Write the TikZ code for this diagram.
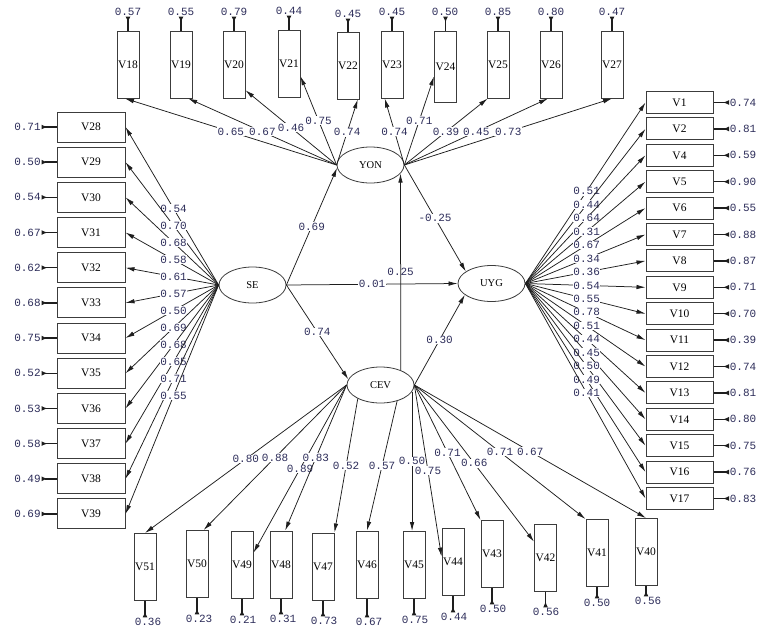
\documentclass[tikz,border=0pt]{standalone}
\usepackage{fontspec}
\setmainfont{Liberation Serif}
\newfontfamily\numfont{Liberation Mono}
\usetikzlibrary{arrows.meta,shapes.geometric,calc}
\definecolor{numc}{RGB}{45,45,90}
\definecolor{linec}{RGB}{30,30,30}
\definecolor{boxc}{RGB}{60,60,60}
\begin{document}
\begin{tikzpicture}[x=1pt,y=-1pt,
  obs/.style={draw=boxc, line width=1pt, inner sep=0pt, fill=white, font=\fontsize{11.5}{12}\selectfont},
  vb/.style={obs, minimum width=22pt, minimum height=67pt},
  lb/.style={obs, minimum width=68pt, minimum height=30pt},
  rb/.style={obs, minimum width=67pt, minimum height=22pt},
  lat/.style={ellipse, draw=boxc, line width=0.8pt, inner sep=0pt, fill=white, minimum width=67pt, minimum height=36pt, font=\fontsize{10.5}{12}\selectfont},
  num/.style={font=\numfont\fontsize{11}{12}\selectfont, text=numc, inner sep=0.6pt},
  coef/.style={num, fill=white},
  pth/.style={draw=linec, line width=0.75pt, -{Latex[length=9pt,width=4.5pt]}},
  err/.style={draw=linec, line width=1.4pt, -{Latex[length=6pt,width=5pt,reversed]}}
]
\useasboundingbox[fill=white] (0,0) rectangle (757,629);

% latent variables
\node[lat] (YON) at (370.5,165) {YON};
\node[lat] (SE)  at (252.5,285) {SE};
\node[lat] (UYG) at (491.5,283.5) {UYG};
\node[lat] (CEV) at (380.5,385) {CEV};

% top boxes
\foreach \n/\x/\y/\e/\ey in {18/128/64.5/0.57/12, 19/181/64.5/0.55/12, 20/234/64.5/0.79/12, 21/289/63.5/0.44/11, 22/348/65.5/0.45/14, 23/392/64.5/0.45/12, 25/498/64.5/0.85/12, 26/551/64.5/0.80/12, 27/612/64.5/0.47/12}{
  \node[vb] (V\n) at (\x,\y) {V\n};
  \node[num] (e\n) at (\x,\ey) {\e};
  \draw[err] (V\n.north) -- (V\n.north |- e\n.south);
}
\node[vb, minimum height=71pt] (V24) at (445.5,66.5) {V24};
\node[num] (e24) at (445,12) {0.50};
\draw[err] (V24.north) -- (V24.north |- e24.south);

% left boxes
\foreach \n/\e [count=\i from 0] in {28/0.71,29/0.50,30/0.54,31/0.67,32/0.62,33/0.68,34/0.75,35/0.52,36/0.53,37/0.58,38/0.49,39/0.69}{
  \node[lb] (V\n) at (91,{127+35.18*\i}) {V\n};
  \node[num] (e\n) at (27.5,{127+35.18*\i}) {\e};
  \draw[err] (V\n.west) -- (e\n.east);
}

% right boxes
\foreach \n/\e [count=\i from 0] in {1/0.74,2/0.81,4/0.59,5/0.90,6/0.55,7/0.88,8/0.87,9/0.71,10/0.70,11/0.39,12/0.74,13/0.81,14/0.80,15/0.75,16/0.76,17/0.83}{
  \node[rb] (V\n) at (679.5,{102.5+26.4*\i}) {V\n};
  \node[num] (e\n) at (743,{102.5+26.4*\i}) {\e};
  \draw[err] (V\n.east) -- (e\n.west);
}

% bottom boxes
\foreach \n/\x/\y/\e/\ex/\ey in {51/145/567/0.36/148/622, 50/197/564/0.23/199/619, 49/242/565/0.21/243/620, 48/281/564.5/0.31/283/619, 47/323/566.5/0.73/324/621, 46/367/564.5/0.67/369/622, 45/414/565/0.75/415/620, 44/453/562/0.44/454/617, 43/492/554/0.50/493/609, 42/545.5/557.5/0.56/546/612, 41/597/553/0.50/597/603, 40/646/552/0.56/648/601}{
  \node[vb] (V\n) at (\x,\y) {V\n};
  \node[num] (e\n) at (\ex,\ey) {\e};
  \draw[err] (V\n.south) -- (V\n.south |- e\n.north);
}

% structural paths
\draw[pth] (SE.east) -- node[coef]{0.69} (YON.185);
\draw[pth] (SE.east) -- node[coef]{0.01} (UYG.west);
\draw[pth] (SE.east) -- node[coef]{0.74} (CEV.170);
\draw[pth] (CEV.36) -- node[num]{0.25} (YON.-16);
\draw[pth] (YON.east) -- node[coef]{-0.25} (UYG.155);
\draw[pth] (CEV.east) -- node[coef]{0.30} (UYG.203);

% YON indicators
\foreach \n/\a/\c in {18/265/0.65, 19/-78/0.67, 20/-66.7/0.46, 21/-48.7/0.75, 22/-74/0.74}{
  \draw[pth] (YON.west) -- node[coef]{\c} (V\n.\a);
}
\foreach \n/\a/\c in {23/258/0.74, 24/221/0.71, 25/253/0.39, 26/265/0.45, 27/270/0.73}{
  \draw[pth] (YON.east) -- node[coef]{\c} (V\n.\a);
}

% SE indicators
\foreach \n/\c in {28/0.54,29/0.70,30/0.68,31/0.58,32/0.61,33/0.57,34/0.50,35/0.69,36/0.68,37/0.65,38/0.71,39/0.55}{
  \draw[pth] (SE.west) -- node[coef,pos=0.484]{\c} (V\n.east);
}

% UYG indicators
\foreach \n/\c in {1/0.51,2/0.44,4/0.64,5/0.31,6/0.67,7/0.34,8/0.36,9/0.54,10/0.55,11/0.78,12/0.51,13/0.44,14/0.45,15/0.50,16/0.49,17/0.41}{
  \draw[pth] (UYG.east) -- node[coef,pos=0.51]{\c} (V\n.west);
}

% CEV indicators
\draw[pth] (CEV.west) -- node[coef]{0.80} (V51.north);
\draw[pth] (CEV.west) -- node[coef]{0.88} (V50.79);
\draw[pth] (CEV.west) -- node[coef]{0.89} (V49.47.5);
\draw[pth] (CEV.west) -- node[coef]{0.83} (V48.83);
\draw[pth] (CEV.211) -- node[coef]{0.52} (V47.north east);
\draw[pth] (CEV.-44.6) -- node[coef]{0.57} (V46.north);
\draw[pth] (CEV.-12.4) -- node[coef]{0.50} (CEV.-12.4 |- V45.north);
\draw[pth] (CEV.east) -- node[coef]{0.75} (V44.155.6);
\draw[pth] (CEV.east) -- node[coef]{0.71} (V43.north west);
\draw[pth] (CEV.east) -- node[coef]{0.66} (V42.126.6);
\draw[pth] (CEV.east) -- node[coef]{0.71} (V41.north west);
\draw[pth] (CEV.east) -- node[coef]{0.67} (V40.north);
\end{tikzpicture}
\end{document}
